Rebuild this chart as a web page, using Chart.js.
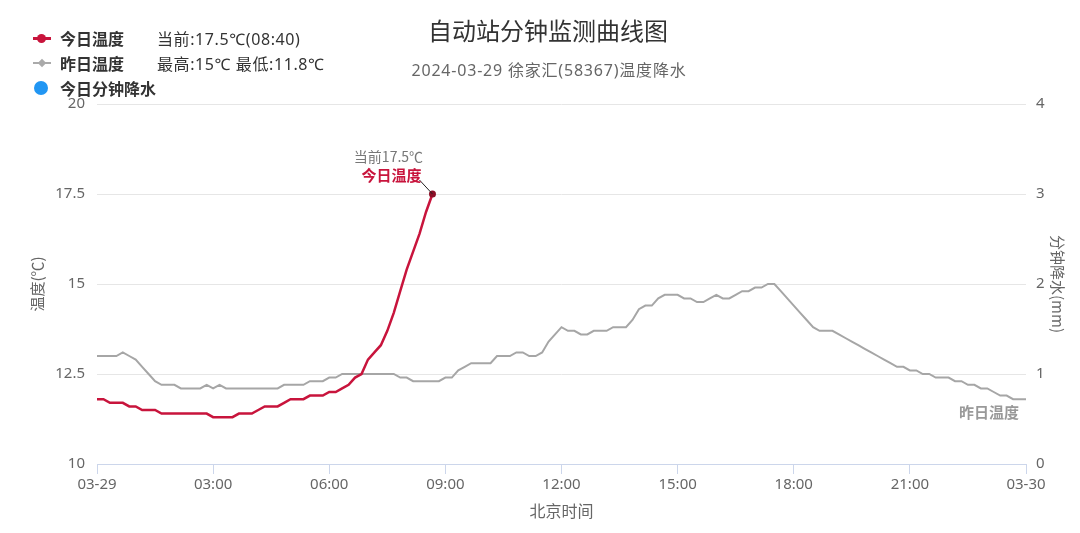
<!DOCTYPE html>
<html>
<head>
<meta charset="utf-8">
<script src="https://cdn.jsdelivr.net/npm/chart.js@4.4.1/dist/chart.umd.min.js"></script>
<style>
  body { margin: 0; background: #fff; font-family: "Noto Sans CJK SC", "Noto Sans", sans-serif; }
  #wrap { position: relative; width: 1080px; height: 533px; overflow: hidden; }
  #chart { position: absolute; left: 0; top: 0; }
  .abs { position: absolute; white-space: nowrap; }
  .title { left: 548px; top: 16px; transform: translateX(-50%); font-size: 24px; line-height: 28px; color: #333; }
  .sub { left: 549px; top: 60px; transform: translateX(-50%); font-family: "Noto Sans", "Noto Sans CJK SC", sans-serif; font-size: 16px; letter-spacing: 0.8px; line-height: 20px; color: #666; }
  .lg-name { left: 60px; font-size: 16px; line-height: 20px; font-weight: bold; color: #333; }
  .lg-info { left: 157px; font-family: "Noto Sans", "Noto Sans CJK SC", sans-serif; font-size: 16px; letter-spacing: 0.6px; line-height: 20px; color: #333; }
  .sym-line { position: absolute; left: 33px; width: 18px; height: 3px; }
  .sym-dot { position: absolute; width: 9px; height: 9px; border-radius: 50%; }
  .sym-dia { position: absolute; width: 6px; height: 6px; transform: rotate(45deg); }
</style>
</head>
<body>
<div id="wrap">
  <canvas id="chart" width="1080" height="533"></canvas>
  <div class="abs title">自动站分钟监测曲线图</div>
  <div class="abs sub">2024-03-29 徐家汇(58367)温度降水</div>

  <div class="sym-line" style="top:37px;background:#c8143c"></div>
  <div class="sym-dot" style="left:37px;top:34px;background:#c8143c"></div>
  <div class="abs lg-name" style="top:28px">今日温度</div>
  <div class="abs lg-info" style="top:29px">当前:17.5℃(08:40)</div>

  <div class="sym-line" style="top:62px;height:2px;background:#aaa"></div>
  <div class="sym-dia" style="left:39px;top:60px;background:#aaa"></div>
  <div class="abs lg-name" style="top:53px">昨日温度</div>
  <div class="abs lg-info" style="top:54px">最高:15℃ 最低:11.8℃</div>

  <div class="sym-dot" style="left:34px;top:81px;width:14px;height:14px;background:#2196f3"></div>
  <div class="abs lg-name" style="top:78px">今日分钟降水</div>
</div>
<script>
// minutes after midnight, one reading every 10 minutes
const stepMin = 10;
const xTickLabels = ["03-29", "03:00", "06:00", "09:00", "12:00", "15:00", "18:00", "21:00", "03-30"];

// 今日温度 00:00 - 08:40
const todayTemp = [
  11.8, 11.8, 11.7, 11.7, 11.7, 11.6, 11.6, 11.5, 11.5, 11.5, 11.4, 11.4,
  11.4, 11.4, 11.4, 11.4, 11.4, 11.4, 11.3, 11.3, 11.3, 11.3, 11.4, 11.4,
  11.4, 11.5, 11.6, 11.6, 11.6, 11.7, 11.8, 11.8, 11.8, 11.9, 11.9, 11.9,
  12.0, 12.0, 12.1, 12.2, 12.4, 12.5, 12.9, 13.1, 13.3, 13.7, 14.2, 14.8,
  15.4, 15.9, 16.4, 17.0, 17.5
];

// 昨日温度 00:00 - 24:00
const yesterdayTemp = [
  13.0, 13.0, 13.0, 13.0, 13.1, 13.0, 12.9, 12.7, 12.5, 12.3, 12.2, 12.2,
  12.2, 12.1, 12.1, 12.1, 12.1, 12.2, 12.1, 12.2, 12.1, 12.1, 12.1, 12.1,
  12.1, 12.1, 12.1, 12.1, 12.1, 12.2, 12.2, 12.2, 12.2, 12.3, 12.3, 12.3,
  12.4, 12.4, 12.5, 12.5, 12.5, 12.5, 12.5, 12.5, 12.5, 12.5, 12.5, 12.4,
  12.4, 12.3, 12.3, 12.3, 12.3, 12.3, 12.4, 12.4, 12.6, 12.7, 12.8, 12.8,
  12.8, 12.8, 13.0, 13.0, 13.0, 13.1, 13.1, 13.0, 13.0, 13.1, 13.4, 13.6,
  13.8, 13.7, 13.7, 13.6, 13.6, 13.7, 13.7, 13.7, 13.8, 13.8, 13.8, 14.0,
  14.3, 14.4, 14.4, 14.6, 14.7, 14.7, 14.7, 14.6, 14.6, 14.5, 14.5, 14.6,
  14.7, 14.6, 14.6, 14.7, 14.8, 14.8, 14.9, 14.9, 15.0, 15.0, 14.8, 14.6,
  14.4, 14.2, 14.0, 13.8, 13.7, 13.7, 13.7, 13.6, 13.5, 13.4, 13.3, 13.2,
  13.1, 13.0, 12.9, 12.8, 12.7, 12.7, 12.6, 12.6, 12.5, 12.5, 12.4, 12.4,
  12.4, 12.3, 12.3, 12.2, 12.2, 12.1, 12.1, 12.0, 11.9, 11.9, 11.8, 11.8,
  11.8
];

// 今日分钟降水 (no rain recorded)
const rainToday = [];

const toPoints = arr => arr.map((v, i) => ({ x: i * stepMin, y: v }));
const todayPts = toPoints(todayTemp);
const yesterdayPts = toPoints(yesterdayTemp);

const tickFont = { family: "Noto Sans, Noto Sans CJK SC, sans-serif", size: 15 };
const axisTitleFont = { family: "Noto Sans CJK SC, sans-serif", size: 15 };

// labels at the end of the lines
const endLabels = {
  id: 'endLabels',
  afterDatasetsDraw(chart) {
    const ctx = chart.ctx;
    const tData = chart.getDatasetMeta(0).data;
    const tp = tData[tData.length - 1];
    const yData = chart.getDatasetMeta(1).data;
    const yp = yData[yData.length - 1];
    ctx.save();
    // connector
    ctx.strokeStyle = '#222';
    ctx.lineWidth = 1;
    ctx.beginPath();
    ctx.moveTo(tp.x - 13, tp.y - 14);
    ctx.lineTo(tp.x, tp.y);
    ctx.stroke();
    ctx.textAlign = 'center';
    ctx.textBaseline = 'middle';
    ctx.fillStyle = '#777';
    ctx.font = '14px "Noto Sans CJK SC", sans-serif';
    ctx.fillText('当前' + todayTemp[todayTemp.length - 1] + '℃', tp.x - 44, tp.y - 37);
    ctx.fillStyle = '#c8143c';
    ctx.font = 'bold 15px "Noto Sans CJK SC", sans-serif';
    ctx.fillText('今日温度', tp.x - 41, tp.y - 19);
    ctx.textAlign = 'right';
    ctx.fillStyle = '#999';
    ctx.font = 'bold 15px "Noto Sans CJK SC", sans-serif';
    ctx.fillText('昨日温度', yp.x - 7, yp.y + 13);
    ctx.restore();
  }
};

new Chart(document.getElementById('chart'), {
  type: 'line',
  data: {
    datasets: [{
      label: '今日温度',
      data: todayPts,
      borderColor: '#c8143c',
      borderWidth: 2.5,
      pointRadius: c => (c.dataIndex === todayPts.length - 1 ? 3.5 : 0),
      pointBackgroundColor: '#8b0f27',
      pointBorderWidth: 0,
      tension: 0,
      yAxisID: 'y'
    }, {
      label: '昨日温度',
      data: yesterdayPts,
      borderColor: '#a6a6a6',
      borderWidth: 2,
      pointRadius: 0,
      tension: 0,
      yAxisID: 'y'
    }, {
      label: '今日分钟降水',
      data: rainToday,
      borderColor: '#2196f3',
      backgroundColor: '#2196f3',
      pointRadius: 0,
      yAxisID: 'y2'
    }]
  },
  options: {
    responsive: false,
    animation: false,
    devicePixelRatio: 1,
    layout: { padding: { top: 104, left: 0, right: 0, bottom: 0 } },
    plugins: {
      legend: { display: false },
      tooltip: { enabled: false }
    },
    scales: {
      x: {
        type: 'linear',
        min: 0,
        max: 1440,
        offset: false,
        afterFit: s => { s.height = 69; },
        afterBuildTicks: s => { s.ticks = xTickLabels.map((l, i) => ({ value: i * 180 })); },
        ticks: {
          color: '#666',
          font: tickFont,
          padding: 2,
          maxRotation: 0,
          autoSkip: false,
          callback: v => xTickLabels[Math.round(v / 180)]
        },
        grid: { offset: false, drawOnChartArea: false, drawTicks: true, tickLength: 10, color: '#ccd6eb' },
        border: { color: '#ccd6eb', width: 1 },
        title: { display: true, text: '北京时间', color: '#666', font: { family: 'Noto Sans CJK SC', size: 16 }, padding: { top: 0, bottom: 12 } }
      },
      y: {
        position: 'left',
        min: 10,
        max: 20,
        afterFit: s => { s.width = 97; },
        ticks: { stepSize: 2.5, color: '#666', font: tickFont, padding: 12 },
        grid: { color: '#e6e6e6', drawTicks: false },
        border: { display: false },
        title: { display: true, text: '温度(℃)', color: '#666', font: axisTitleFont, padding: { top: 28, bottom: 0 } }
      },
      y2: {
        position: 'right',
        min: 0,
        max: 4,
        afterFit: s => { s.width = 54; },
        ticks: { stepSize: 1, color: '#666', font: tickFont, padding: 10 },
        grid: { drawOnChartArea: false, drawTicks: false },
        border: { display: false },
        title: { display: true, text: '分钟降水(mm)', color: '#666', font: axisTitleFont, padding: { top: 13, bottom: 0 } }
      }
    }
  },
  plugins: [endLabels]
});
</script>
</body>
</html>
